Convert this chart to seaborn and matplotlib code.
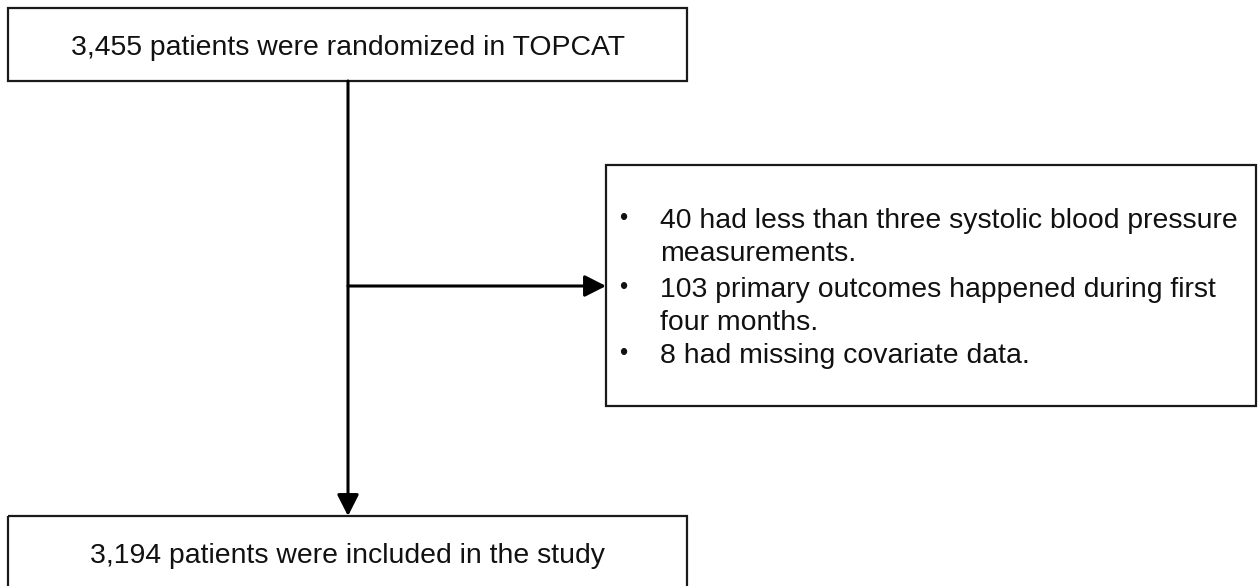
import matplotlib.pyplot as plt
import seaborn as sns
from matplotlib.patches import Rectangle

# Textos do fluxograma
titulo_topo = "3,455 patients were randomized in TOPCAT"
titulo_base = "3,194 patients were included in the study"
exclusoes = [
    ["40 had less than three systolic blood pressure", "measurements."],
    ["103 primary outcomes happened during first", "four months."],
    ["8 had missing covariate data."],
]

sns.set_theme(style="white")
plt.rcParams['font.family'] = ['Liberation Sans', 'DejaVu Sans']

fig = plt.figure(figsize=(12.58, 5.86), dpi=100)
ax = fig.add_axes([0, 0, 1, 1])
ax.set_xlim(0, 1258)
ax.set_ylim(586, 0)
ax.axis("off")

# caixas (coordenadas em pixels)
caixa_kw = dict(fill=False, edgecolor="#1a1a1a", linewidth=1.6)
ax.add_patch(Rectangle((8, 8), 679, 73, **caixa_kw))
ax.add_patch(Rectangle((606, 165), 650, 241, **caixa_kw))
ax.add_patch(Rectangle((8, 516), 679, 90, **caixa_kw))

fs = 20.4
cor = "#111111"
ax.text(348, 55, titulo_topo, ha="center", va="baseline", fontsize=fs, color=cor)
ax.text(348, 563, titulo_base, ha="center", va="baseline", fontsize=fs, color=cor)

# lista de exclusões com marcadores
baselines = [[228, 261], [297, 330], [363]]
for linhas, ys in zip(exclusoes, baselines):
    ax.text(623, ys[0] - 3, "\u2022", ha="center", va="baseline", fontsize=17, color=cor)
    for linha, y in zip(linhas, ys):
        ax.text(660, y, linha, ha="left", va="baseline", fontsize=fs, color=cor)

# setas
seta = dict(arrowstyle="-|>,head_length=0.65,head_width=0.33", mutation_scale=20,
            color="black", linewidth=2.2, shrinkA=0, shrinkB=0)
ax.annotate("", xy=(348, 516), xytext=(348, 81), arrowprops=seta)
ax.annotate("", xy=(606, 286), xytext=(348, 286), arrowprops=seta)

fig.savefig("out.png", dpi=100)
